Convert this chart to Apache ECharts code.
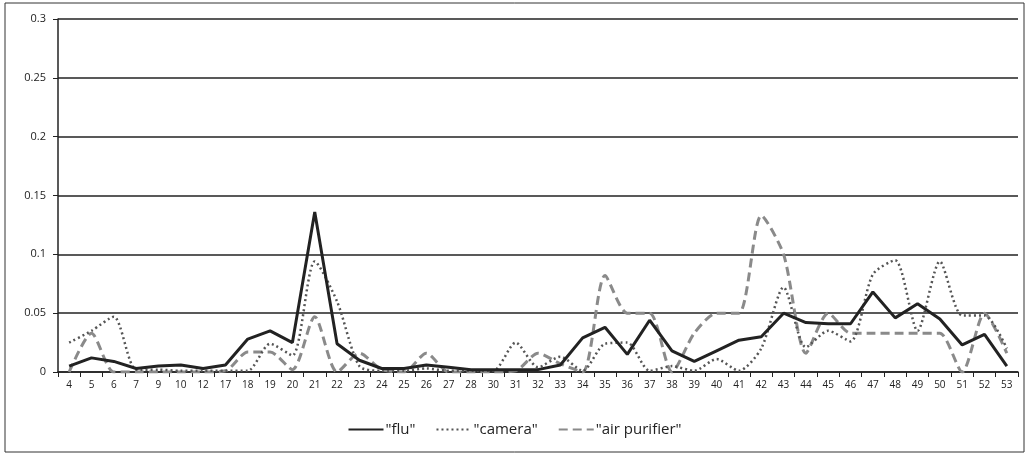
<!DOCTYPE html>
<html><head><meta charset="utf-8">
<script src="https://cdn.jsdelivr.net/npm/echarts@6/dist/echarts.min.js"></script>
<style>html,body{margin:0;padding:0;background:#fff}#c{width:1029px;height:455px}</style>
</head><body><div id="c"></div>
<script>
const categories = ['4','5','6','7','9','10','12','17','18','19','20','21','22','23','24','25','26','27','28','30','31','32','33','34','35','36','37','38','39','40','41','42','43','44','45','46','47','48','49','50','51','52','53'];
const flu = [0.005,0.012,0.009,0.003,0.005,0.006,0.003,0.006,0.028,0.035,0.025,0.136,0.024,0.01,0.003,0.003,0.006,0.004,0.002,0.002,0.002,0.002,0.006,0.029,0.038,0.015,0.044,0.018,0.009,0.018,0.027,0.03,0.05,0.042,0.041,0.041,0.068,0.046,0.058,0.045,0.023,0.032,0.005];
const camera = [0.025,0.035,0.047,0.002,0.002,0.001,0.001,0.001,0.001,0.024,0.014,0.094,0.06,0.005,0.001,0.001,0.003,0.001,0.001,0.001,0.025,0.004,0.013,0.001,0.024,0.025,0.001,0.005,0.001,0.011,0.001,0.02,0.072,0.021,0.035,0.026,0.083,0.095,0.035,0.094,0.048,0.048,0.02];
const airPurifier = [0.0,0.033,0.0,0.0,0.0,0.0,0.0,0.001,0.017,0.017,0.002,0.047,0.0,0.016,0.002,0.0,0.016,0.0,0.0,0.0,0.001,0.016,0.007,0.0,0.082,0.05,0.05,0.0,0.033,0.05,0.05,0.133,0.1,0.016,0.05,0.033,0.033,0.033,0.033,0.033,0.0,0.05,0.016];
const seriesNames = ['"flu"','"camera"','"air purifier"'];

const chart = echarts.init(document.getElementById('c'), null, {renderer:'canvas'});
const font = '"Open Sans", "Liberation Sans", "DejaVu Sans", sans-serif';
chart.setOption({
  animation:false,
  backgroundColor:'#fff',
  textStyle:{fontFamily:font},
  graphic:[{type:'rect',shape:{x:5,y:3,width:1019,height:449},style:{fill:'none',stroke:'#333',lineWidth:1},silent:true}],
  grid:{left:58,right:11,top:19,bottom:83,containLabel:false},
  legend:{
    bottom:13,left:'center',itemWidth:35,itemHeight:10,itemGap:20,
    itemStyle:{opacity:0},
    textStyle:{fontFamily:font,fontSize:15,color:'#222',padding:[0,0,0,-3]},
    data:seriesNames
  },
  xAxis:{
    type:'category',data:categories,boundaryGap:true,
    axisLine:{lineStyle:{color:'#222',width:1.5}},
    axisTick:{show:true,lineStyle:{color:'#222'},length:5},
    axisLabel:{color:'#222',fontSize:10,fontFamily:font,interval:0,margin:8}
  },
  yAxis:{
    type:'value',min:0,max:0.3,interval:0.05,
    axisLine:{show:true,lineStyle:{color:'#222',width:1.5}},
    axisTick:{show:true,length:5,lineStyle:{color:'#222'}},
    axisLabel:{color:'#222',fontSize:11,fontFamily:font,margin:12,formatter:v=>String(+v.toFixed(2))},
    splitLine:{show:true,lineStyle:{color:'#222',width:1.5}}
  },
  series:[
    {name:seriesNames[0],type:'line',data:flu,symbol:'none',lineStyle:{color:'#222',width:3,type:'solid'},itemStyle:{color:'#222'},z:5},
    {name:seriesNames[1],type:'line',data:camera,symbol:'none',smooth:0.25,lineStyle:{color:'#555',width:2.5,type:[2,3]},itemStyle:{color:'#555'},z:4},
    {name:seriesNames[2],type:'line',data:airPurifier,symbol:'none',smooth:0.25,lineStyle:{color:'#8a8a8a',width:3,type:[9,5]},itemStyle:{color:'#8a8a8a'},z:3}
  ]
});
</script></body></html>
